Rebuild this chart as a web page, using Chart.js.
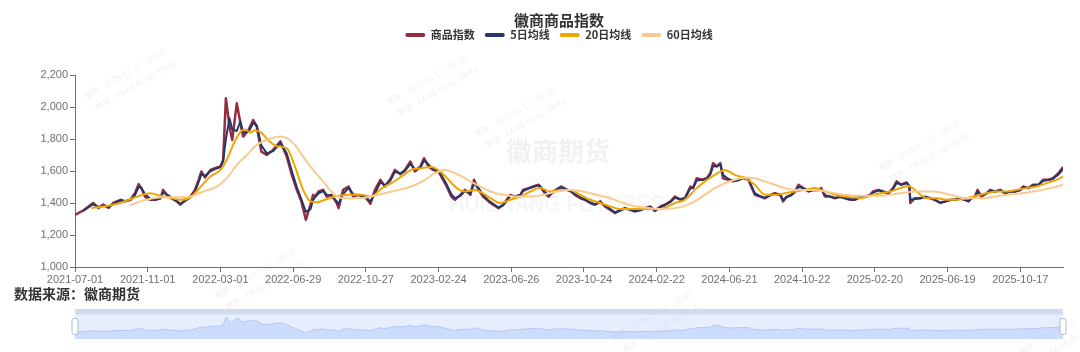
<!DOCTYPE html>
<html>
<head>
<meta charset="utf-8">
<script src="https://cdn.jsdelivr.net/npm/chart.js@4.4.1/dist/chart.umd.min.js"></script>
<style>
  body { margin: 0; background: #fff; width: 1080px; height: 352px; overflow: hidden; position: relative; }
  #main { position: absolute; left: 0; top: 0; }
  #zoom { position: absolute; left: 65px; top: 309px; }
  #source { position: absolute; left: 14px; top: 285px; font: bold 14px/16px "Noto Sans CJK SC", sans-serif; color: #333; }
</style>
</head>
<body>
<canvas id="main" width="1080" height="352"></canvas>
<div id="source">数据来源：徽商期货</div>
<canvas id="zoom" width="1008" height="30"></canvas>
<script>
// x axis = trading day number since 2021-07-01
var tickIdx = [0, 80, 160, 240, 320, 400, 480, 560, 640, 720, 800, 880, 960, 1040];
var tickLabels = ['2021-07-01', '2021-11-01', '2022-03-01', '2022-06-29', '2022-10-27', '2023-02-24', '2023-06-26',
  '2023-10-24', '2024-02-22', '2024-06-21', '2024-10-22', '2025-02-20', '2025-06-19', '2025-10-17'];
var lastDay = 1087;

var dayIdx = [0,9,20,26,31,37,42,50,55,61, 66,70,73,77,83,88,94,97,101,106, 112,116,121,127,132,136,139,143,149,154,
  160,163,166,170,173,178,182,185,191,196, 200,205,211,218,226,233,238,244,249,254, 259,262,264,268,273,277,282,288,290,295,
  301,306,312,319,325,330,336,341,347,352, 358,363,369,374,380,384,389,394,400,403, 409,414,418,424,429,435,439,444,449,455,
  460,466,471,475,479,484,490,493,499,504, 510,513,517,521,526,532,535,541,546,550, 556,561,567,572,578,583,589,594,600,605,
  611,616,622,627,633,638,644,649,655,660, 666,671,677,680,684,690,695,699,702,706, 710,713,719,724,730,735,741,744,748,754,
  759,765,770,776,779,783,788,792,796,801, 807,812,818,821,825,831,836,842,847,853, 858,864,869,875,878,884,889,895,900,904,
  909,915,918,919,924,930,935,941,946,952, 957,963,968,974,979,983,986,990,993,997, 1003,1007,1012,1018,1023,1029,1034,1040,1043,1049,
  1054,1060,1065,1071,1076,1082,1087];

var priceVals = [1325,1353,1400,1368,1390,1370,1400,1420,1410,1420, 1462,1518,1493,1440,1420,1420,1430,1482,1450,1430,
  1410,1389,1420,1440,1482,1545,1597,1560,1607,1618, 1628,1670,2055,1877,1794,2023,1899,1815,1857,1919,
  1877,1721,1700,1732,1785,1690,1586,1482,1410,1295, 1389,1451,1440,1472,1482,1440,1451,1400,1368,1482,
  1503,1440,1451,1440,1395,1482,1545,1503,1550,1607, 1580,1607,1659,1597,1628,1680,1628,1607,1597,1565,
  1503,1440,1420,1451,1482,1451,1545,1482,1440,1410, 1389,1368,1389,1420,1451,1440,1451,1482,1493,1503,
  1514,1493,1461,1440,1472,1493,1503,1482,1472,1451, 1430,1420,1400,1389,1410,1378,1357,1337,1357,1368,
  1357,1347,1357,1368,1378,1350,1378,1389,1410,1440, 1420,1430,1503,1493,1555,1545,1555,1586,1649,1628,
  1649,1555,1545,1535,1545,1560,1545,1503,1451,1440, 1430,1451,1461,1451,1410,1440,1451,1472,1514,1493,
  1472,1482,1482,1493,1440,1440,1430,1440,1430,1420, 1420,1440,1440,1451,1472,1482,1472,1461,1493,1535,
  1514,1528,1503,1400,1430,1430,1440,1430,1420,1400, 1410,1420,1420,1430,1420,1410,1430,1440,1482,1440,
  1461,1482,1472,1482,1461,1472,1472,1482,1503,1493, 1514,1514,1545,1545,1555,1586,1625];

var ma5Vals = [null,1350,1392,1375,1385,1375,1395,1415,1412,1418, 1450,1500,1495,1455,1425,1420,1428,1465,1455,1435,
  1412,1395,1412,1435,1475,1530,1580,1568,1598,1612, 1625,1660,1800,1930,1860,1850,1910,1840,1845,1900,
  1885,1760,1710,1725,1775,1710,1610,1500,1425,1345, 1360,1420,1435,1460,1475,1450,1448,1410,1395,1455,
  1495,1455,1448,1440,1410,1460,1530,1510,1540,1595, 1585,1600,1645,1610,1620,1665,1640,1612,1598,1575,
  1515,1455,1430,1445,1475,1460,1520,1495,1450,1415, 1395,1372,1385,1412,1445,1442,1450,1475,1490,1500,
  1510,1498,1468,1448,1465,1488,1498,1485,1472,1455, 1435,1422,1403,1392,1405,1385,1362,1342,1352,1365,
  1358,1350,1355,1365,1375,1355,1372,1386,1405,1432, 1425,1430,1490,1495,1540,1545,1552,1578,1630,1630,
  1640,1575,1550,1538,1542,1555,1545,1512,1462,1442, 1432,1448,1458,1450,1420,1435,1448,1468,1500,1495,
  1475,1480,1482,1488,1450,1440,1432,1438,1432,1422, 1422,1436,1440,1450,1465,1478,1472,1463,1488,1525,
  1515,1525,1505,1420,1425,1430,1438,1430,1420,1403, 1408,1418,1420,1428,1420,1412,1426,1438,1470,1448,
  1458,1476,1472,1480,1465,1470,1472,1480,1498,1494, 1510,1513,1538,1543,1552,1578,1612];

var ma20Idx = [18,31,50,66,83,94,105,116,127,138, 149,160,167,174,182,187,193,198,205,213, 222,233,242,251,259,266,275,286,301,315,
  326,337,348,359,370,381,392,402,411,420, 429,440,457,468,479,490,501,512,523,534, 545,556,567,578,589,600,614,629,644,660,
  671,682,693,704,715,726,737,748,759,770, 781,792,803,814,825,836,847,858,864,875, 886,897,908,917,926,937,948,959,970,981,
  992,1003,1014,1025,1036,1047,1058,1069,1080,1087];
var ma20Vals = [1368,1378,1400,1435,1461,1445,1432,1420,1435,1500, 1565,1607,1670,1763,1845,1860,1840,1855,1840,1790,
  1755,1742,1628,1482,1410,1405,1420,1440,1451,1451, 1440,1490,1524,1565,1607,1618,1625,1597,1545,1493,
  1472,1482,1430,1400,1420,1440,1472,1493,1472,1482, 1482,1451,1420,1400,1378,1362,1362,1362,1362,1400,
  1420,1482,1535,1576,1607,1576,1555,1514,1451,1451, 1461,1472,1482,1493,1472,1451,1440,1436,1430,1445,
  1461,1472,1493,1507,1472,1430,1430,1420,1420,1430, 1445,1461,1472,1472,1482,1493,1503,1524,1545,1565];

var ma60Idx = [60,72,86,101,116,127,141,156,167,178, 189,200,211,226,233,242,251,262,273,284, 295,310,325,341,356,370,385,396,407,418,
  429,435,446,457,471,486,501,515,530,545, 559,574,589,603,618,633,644,660,671,682, 693,704,715,726,737,748,759,770,781,792,
  803,814,825,836,847,858,886,908,926,944, 963,981,1000,1018,1036,1054,1073,1087];
var ma60Vals = [1385,1410,1430,1436,1436,1440,1472,1503,1555,1638, 1700,1763,1794,1815,1805,1763,1690,1607,1534,1461,
  1430,1430,1440,1461,1482,1503,1545,1586,1607,1586, 1555,1535,1503,1472,1451,1440,1440,1451,1472,1482,
  1472,1451,1430,1400,1378,1368,1362,1368,1382,1410, 1451,1493,1524,1545,1560,1555,1535,1514,1493,1482,
  1482,1482,1472,1461,1451,1445,1445,1461,1472,1472, 1451,1430,1430,1445,1457,1472,1493,1514];

var seriesNames = ['商品指数', '5日均线', '20日均线', '60日均线'];
var seriesColors = ['#962d3e', '#22386b', '#f0a500', '#f8cb8f'];

function pts(xs, ys) {
  return xs.map(function (x, i) { return { x: x, y: ys[i] }; });
}

var axisColor = '#6e7079';
var tickFont = { family: 'Liberation Sans', size: 11 };
var cjk = '"Noto Sans CJK SC"';

// faint company watermarks behind the lines
var watermark = {
  id: 'watermark',
  beforeDatasetsDraw: function (chart) {
    var c = chart.ctx;
    c.save();
    c.textAlign = 'center';
    c.textBaseline = 'middle';
    c.fillStyle = 'rgba(0,0,0,0.055)';
    c.font = 'bold 26px ' + cjk;
    c.fillText('徽商期货', 558, 151);
    c.fillStyle = 'rgba(0,0,0,0.035)';
    c.font = 'bold 23px "Liberation Sans"';
    c.fillText('HUISHANG FUTURES', 557, 206, 215);
    var stamps = [[128, 80], [430, 86], [518, 118], [922, 152], [258, 280], [655, 322], [1062, 336]];
    c.fillStyle = 'rgba(0,0,0,0.07)';
    c.font = '8px ' + cjk;
    stamps.forEach(function (s) {
      c.save();
      c.translate(s[0], s[1]);
      c.rotate(-0.52);
      c.fillText('徽商    2025-12-15    10:55', 0, -7);
      c.fillText('期货    F4-68-8C-02-89-41', 4, 8);
      c.restore();
    });
    c.restore();
  }
};

// title and legend sit a little right of the canvas centre
var shiftHeader = {
  id: 'shiftHeader',
  afterLayout: function (chart) {
    [chart.titleBlock, chart.legend].forEach(function (b) {
      if (b) { b.left += 8; b.right += 8; }
    });
  }
};

new Chart(document.getElementById('main'), {
  type: 'line',
  data: {
    datasets: [
      { label: seriesNames[0], data: pts(dayIdx, priceVals), borderColor: seriesColors[0], borderWidth: 2.5, order: 4 },
      { label: seriesNames[1], data: pts(dayIdx, ma5Vals), borderColor: seriesColors[1], borderWidth: 2, order: 3 },
      { label: seriesNames[2], data: pts(ma20Idx, ma20Vals), borderColor: seriesColors[2], borderWidth: 2,
        cubicInterpolationMode: 'monotone', order: 2 },
      { label: seriesNames[3], data: pts(ma60Idx, ma60Vals), borderColor: seriesColors[3], borderWidth: 2,
        cubicInterpolationMode: 'monotone', order: 1 }
    ]
  },
  options: {
    responsive: false,
    animation: false,
    layout: { padding: { left: 39, right: 17, top: 0, bottom: 0 } },
    elements: { point: { radius: 0 }, line: { borderJoinStyle: 'round' } },
    scales: {
      x: {
        type: 'linear', min: 0, max: lastDay,
        afterBuildTicks: function (s) { s.ticks = tickIdx.map(function (v) { return { value: v }; }); },
        afterFit: function (s) { s.height = 85; s.paddingLeft = 0; s.paddingRight = 0; },
        grid: { drawOnChartArea: false, tickLength: 5, color: axisColor },
        border: { color: axisColor },
        ticks: {
          autoSkip: false, maxRotation: 0, padding: 1, color: axisColor, font: tickFont,
          callback: function (v) { return tickLabels[tickIdx.indexOf(v)]; }
        }
      },
      y: {
        min: 1000, max: 2200,
        afterFit: function (s) { s.width = 36; s.paddingTop = 0; s.paddingBottom = 0; },
        grid: { drawOnChartArea: false, tickLength: 5, color: axisColor },
        border: { color: axisColor },
        ticks: {
          stepSize: 200, padding: 2, color: axisColor, font: tickFont,
          callback: function (v) { return v.toLocaleString('en-US'); }
        }
      }
    },
    plugins: {
      title: {
        display: true, text: '徽商商品指数', color: '#333',
        font: { family: cjk, size: 15, weight: 'bold' },
        padding: { top: 11, bottom: -9.5 }
      },
      legend: {
        labels: {
          boxWidth: 20, boxHeight: 4, padding: 10, color: '#333',
          font: { family: cjk, size: 11, weight: 'bold' },
          generateLabels: function (chart) {
            return chart.data.datasets.map(function (ds, i) {
              return { text: ds.label, fillStyle: ds.borderColor, strokeStyle: ds.borderColor, lineWidth: 0,
                borderRadius: 2, datasetIndex: i, hidden: false, fontColor: '#333' };
            });
          }
        }
      },
      // empty spacer under the legend
      subtitle: { display: true, text: '', weight: 500, padding: 0, font: { size: 12, lineHeight: '24.5px' } },
      tooltip: { enabled: false }
    }
  },
  plugins: [watermark, shiftHeader]
});

// data zoom slider look
var sliderFrame = {
  id: 'sliderFrame',
  beforeDraw: function (chart) {
    var a = chart.chartArea, c = chart.ctx;
    c.save();
    c.fillStyle = 'rgba(135,175,255,0.2)';
    c.fillRect(a.left, a.top, a.right - a.left, a.bottom - a.top);
    c.fillStyle = '#d2dbee';
    c.fillRect(a.left, a.top, a.right - a.left, 5.5);
    c.restore();
  },
  afterDraw: function (chart) {
    var a = chart.chartArea, c = chart.ctx;
    c.save();
    c.fillStyle = '#fff';
    c.strokeStyle = '#acb8d1';
    c.lineWidth = 1;
    [a.left, a.right].forEach(function (x) {
      c.beginPath();
      c.roundRect(x - 3, 9.5, 6, 16, 2);
      c.fill();
      c.stroke();
    });
    c.restore();
  }
};

new Chart(document.getElementById('zoom'), {
  type: 'line',
  data: {
    datasets: [{ data: pts(dayIdx, priceVals), borderColor: '#a6c0f5', borderWidth: 0.8,
      backgroundColor: 'rgba(143,176,247,0.3)', fill: 'start', pointRadius: 0 }]
  },
  options: {
    responsive: false,
    animation: false,
    layout: { padding: { left: 10, right: 10, top: 0, bottom: 0 } },
    plugins: { legend: { display: false }, tooltip: { enabled: false } },
    scales: {
      x: { type: 'linear', display: false, min: 0, max: lastDay },
      y: { display: false, min: 1000, max: 2450 }
    }
  },
  plugins: [sliderFrame]
});
</script>
</body>
</html>
